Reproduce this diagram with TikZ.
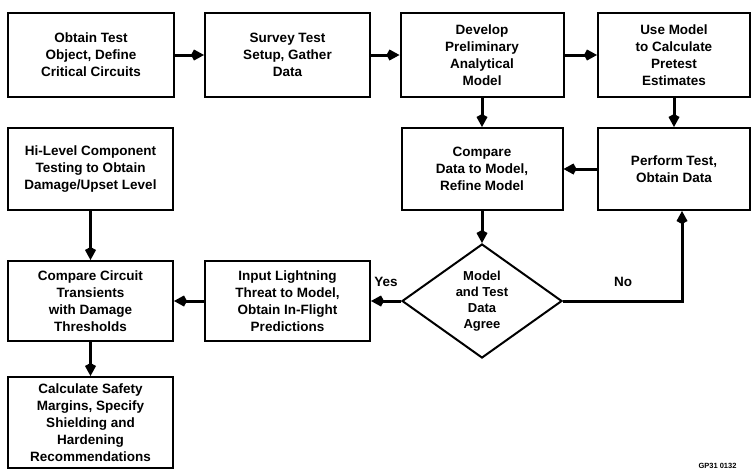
\documentclass[tikz,border=0pt]{standalone}
\usepackage{fontspec}
\setmainfont{Liberation Sans}
\usetikzlibrary{shapes.geometric,arrows.meta}
\begin{document}
\begin{tikzpicture}[x=1pt,y=-1pt,
  box/.style={draw,line width=2pt,align=center,inner sep=1pt,
    font=\bfseries\fontsize{13.5}{17}\selectfont},
  arr/.style={line width=3pt,-{Kite[length=13pt,width=11pt,inset=3pt]}},
  lbl/.style={font=\bfseries\fontsize{13.5}{15}\selectfont}]
\useasboundingbox (0,0) rectangle (752,472);
\fill[white] (0,0) rectangle (752,472);
\node[box,minimum width=166pt,minimum height=84pt] (b1) at (91,55) {Obtain Test\\Object, Define\\Critical Circuits};
\node[box,minimum width=165pt,minimum height=84pt] (b2) at (287.5,55) {Survey Test\\Setup, Gather\\Data};
\node[box,minimum width=163pt,minimum height=84pt] (b3) at (482,55) {Develop\\Preliminary\\Analytical\\Model};
\node[box,minimum width=152pt,minimum height=84pt] (b4) at (674,55) {Use Model\\to Calculate\\Pretest\\Estimates};
\node[box,minimum width=161pt,minimum height=82pt] (cmp) at (482,169) {Compare\\Data to Model,\\Refine Model};
\node[box,minimum width=152pt,minimum height=82pt] (perf) at (674,169) {Perform Test,\\Obtain Data};
\node[box,minimum width=165pt,minimum height=82pt] (hil) at (90.5,169) {Hi-Level Component\\Testing to Obtain\\Damage/Upset Level};
\node[box,minimum width=165pt,minimum height=80pt] (cc) at (90.5,301) {Compare Circuit\\Transients\\with Damage\\Thresholds};
\node[box,minimum width=165pt,minimum height=80pt] (inp) at (287.5,301) {Input Lightning\\Threat to Model,\\Obtain In-Flight\\Predictions};
\node[box,minimum width=165pt,minimum height=91pt] (calc) at (90.5,422.5) {Calculate Safety\\Margins, Specify\\Shielding and\\Hardening\\Recommendations};
\node[draw,line width=2pt,align=center,shape=diamond,aspect=1.4,inner sep=0pt,minimum width=160pt,minimum height=114pt,
  font=\bfseries\fontsize{13}{16}\selectfont] (dia) at (482,301) {Model\\and Test\\Data\\Agree};
\node[lbl] (yes) at (386,282) {Yes};
\node[lbl] (no) at (623,282) {No};
\node[font=\bfseries\fontsize{7.5}{8}\selectfont,anchor=west] (gp) at (695,466) {GP31 0132};
\draw[arr] (b1) -- (b2);
\draw[arr] (b2) -- (b3);
\draw[arr] (b3) -- (b4);
\draw[arr] (b3) -- (cmp);
\draw[arr] (b4) -- (perf);
\draw[arr] (perf) -- (cmp);
\draw[arr] (cmp) -- (dia);
\draw[arr] (dia.east) -| ([xshift=8pt]perf.south);
\draw[arr] (dia.west) -- (inp.east);
\draw[arr] (inp) -- (cc);
\draw[arr] (hil) -- (cc);
\draw[arr] (cc) -- (calc);
\end{tikzpicture}
\end{document}
